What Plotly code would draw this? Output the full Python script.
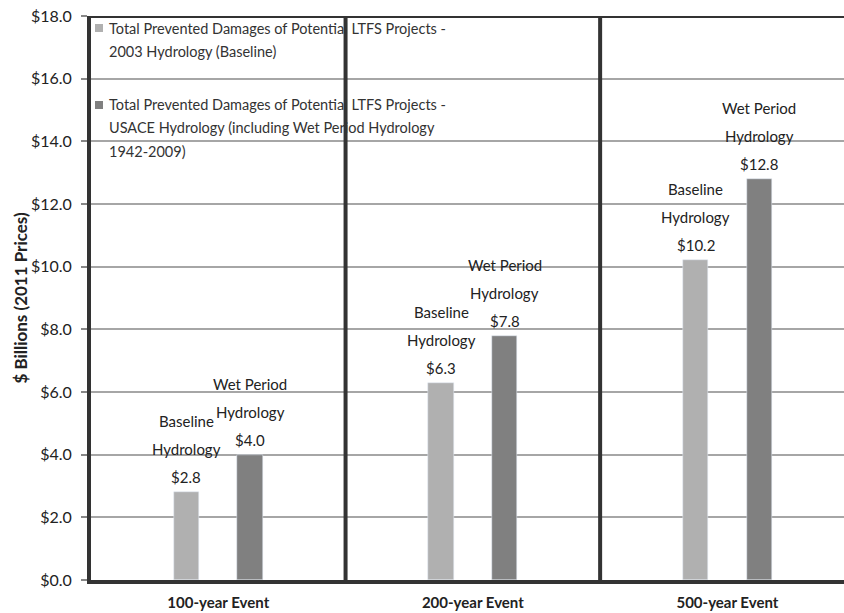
import plotly.graph_objects as go

# Flood events and prevented damages ($ billions, 2011 prices)
events = ["100-year Event", "200-year Event", "500-year Event"]
baseline_values = [2.8, 6.3, 10.2]
wet_values = [4.0, 7.8, 12.8]

baseline_name = "Total Prevented Damages of Potential LTFS Projects -<br>2003 Hydrology (Baseline)"
wet_name = ("Total Prevented Damages of Potential LTFS Projects -<br>"
            "USACE Hydrology (including Wet Period Hydrology<br>1942-2009)")
baseline_label = ["Baseline", "Hydrology"]
wet_label = ["Wet Period", "Hydrology"]

y_ticks = [0, 2, 4, 6, 8, 10, 12, 14, 16, 18]
y_ticktext = [f"${v:.1f}" for v in y_ticks]

FONT = "Lato"
LIGHT = "#b0b0b0"
DARK = "#808080"
BORDER = "#333333"
TEXT = "#222222"

x_pos = list(range(len(events)))
BAR_W = 0.1

fig = go.Figure()
fig.add_trace(go.Bar(x=x_pos, y=baseline_values, width=BAR_W, offset=-0.175,
                     marker_color=LIGHT, name=baseline_name, showlegend=False))
fig.add_trace(go.Bar(x=x_pos, y=wet_values, width=BAR_W, offset=0.075,
                     marker_color=DARK, name=wet_name, showlegend=False))

annotations = []
# value labels stacked above each bar, one line per annotation
for xs, vals, words in ((-0.125, baseline_values, baseline_label),
                        (0.125, wet_values, wet_label)):
    for i, v in enumerate(vals):
        lines = words + [f"${v:.1f}"]
        for k, line in enumerate(reversed(lines)):
            annotations.append(dict(
                x=i + xs, y=v, xref="x", yref="y", text=line, showarrow=False,
                yanchor="middle", yshift=15 + 28 * k,
                font=dict(family=FONT, size=15, color=TEXT)))

# legend drawn inside the top-left corner of the plot
PT, PB = 16, 33
PW, PH = 753, 613 - PT - PB
shapes = []
legend_rows = [(LIGHT, baseline_name, 28), (DARK, wet_name, 105)]
for color, name, ytop in legend_rows:
    shapes.append(dict(type="rect", xref="paper", yref="paper",
                       x0=(95 - 91) / PW, x1=(103 - 91) / PW,
                       y0=(613 - PB - (ytop + 4)) / PH, y1=(613 - PB - (ytop - 4)) / PH,
                       fillcolor=color, line_width=0))
    for j, line in enumerate(name.split("<br>")):
        annotations.append(dict(
            x=(107 - 91) / PW, y=(613 - PB - (ytop + 23 * j)) / PH,
            xref="paper", yref="paper", text=line, showarrow=False,
            xanchor="left", yanchor="middle",
            font=dict(family=FONT, size=14.5, color="#333333")))

# frame lines: category dividers and top edge
for xd in (0.5, 1.5):
    shapes.append(dict(type="line", xref="x", yref="y", x0=xd, x1=xd, y0=0, y1=18,
                       line=dict(color=BORDER, width=4), layer="above"))
shapes.append(dict(type="line", xref="paper", yref="y", x0=0, x1=1, y0=18, y1=18,
                   line=dict(color=BORDER, width=4), layer="above"))

fig.update_layout(
    width=844, height=613,
    margin=dict(l=91, r=0, t=PT, b=PB),
    paper_bgcolor="white", plot_bgcolor="white",
    bargap=0,
    shapes=shapes, annotations=annotations,
    xaxis=dict(range=[-0.5, 2.458], tickmode="array", tickvals=x_pos, ticktext=events,
               automargin=False,
               showgrid=False, zeroline=False, showline=True, linecolor=BORDER,
               linewidth=4, ticks="", ticklabelstandoff=6,
               tickfont=dict(family=FONT, size=15, color=TEXT, weight="bold")),
    yaxis=dict(range=[0, 18], tickmode="array", tickvals=y_ticks, ticktext=y_ticktext,
               automargin=False,
               showgrid=True, gridcolor="#a6a6a6", gridwidth=1.5,
               zeroline=False, showline=True, linecolor=BORDER, linewidth=4,
               ticks="outside", ticklen=6, tickcolor="#888888", tickwidth=1.5,
               ticklabelstandoff=6,
               tickfont=dict(family=FONT, size=16, color=TEXT),
               title=dict(text="$ Billions (2011 Prices)", standoff=0,
                          font=dict(family=FONT, size=17, color=TEXT, weight="bold"))),
)

fig.write_html("out.html")
